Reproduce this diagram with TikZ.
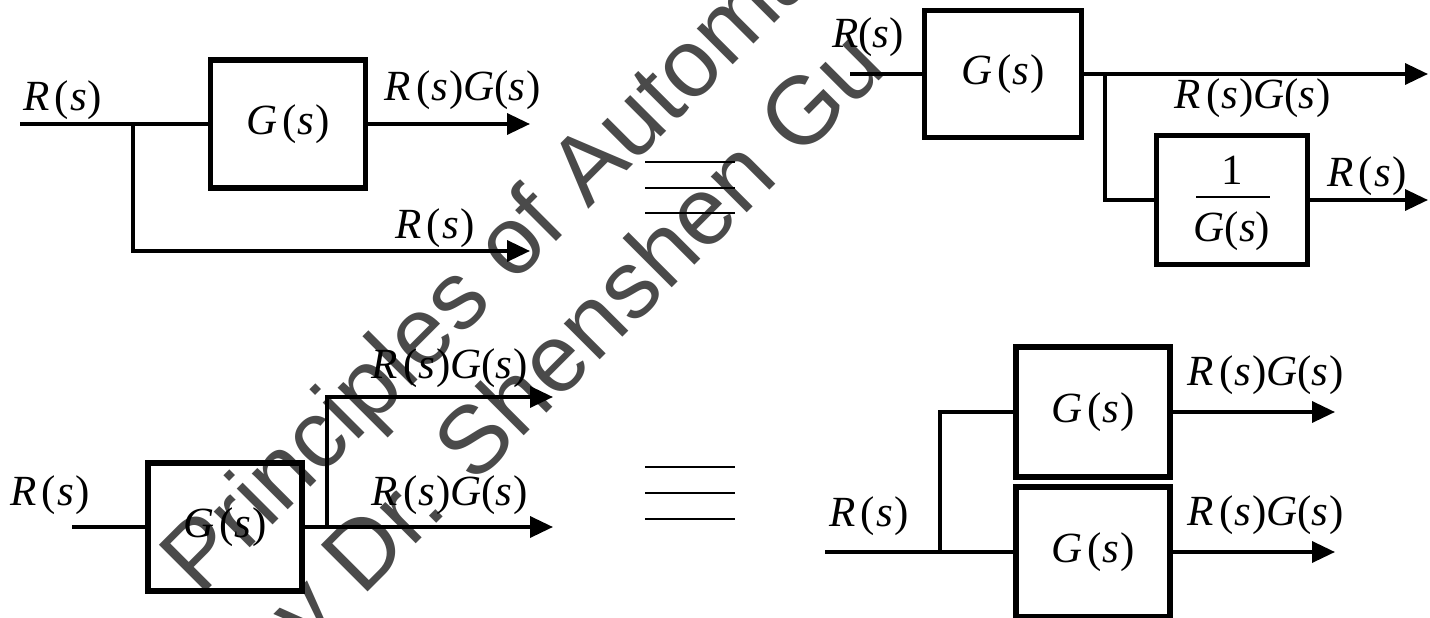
\documentclass[tikz,border=0pt]{standalone}
\usepackage{fontspec}
\setmainfont{Liberation Serif}
\newfontfamily\wmfont{Liberation Sans}
\usetikzlibrary{arrows.meta}
\definecolor{wmgray}{HTML}{4A4A4A}
% signal symbols, MathType-like spacing
\newcommand\Rs{\textit{R}\kern5pt(\kern1pt\textit{s}\kern1pt)}
\newcommand\Rtight{\textit{R}(\textit{s})}
\newcommand\Gs{\textit{G}\kern5pt(\kern1pt\textit{s}\kern1pt)}
\newcommand\Gtight{\textit{G}(\textit{s})}
\newcommand\RGs{\textit{R}\kern5pt(\kern1pt\textit{s}\kern1pt)\textit{G}(\textit{s}\kern1pt)}
\begin{document}
\begin{tikzpicture}[x=1pt,y=-1pt,
  blk/.style={draw, line width=5.5pt, minimum width=155pt, minimum height=128pt,
    inner sep=0pt, font=\fontsize{43}{48}\selectfont},
  lbl/.style={inner sep=0pt, font=\fontsize{43}{48}\selectfont},
  wire/.style={line width=3.5pt},
  sig/.style={wire, -{Triangle[length=23pt,width=21pt]}},
  eqv/.style={line width=2pt},
  wm/.style={anchor=base west, inner sep=0pt, rotate=45, text=wmgray,
    font=\wmfont\fontsize{96}{96}\selectfont}]
\useasboundingbox (0,0) rectangle (1430,618);
\clip (0,0) rectangle (1430,618);

% watermark
\node[wm] (wm1) at (200,598) {Principles of Automatic Control};
\node[wm] (wm2) at (272,688) {by Dr. Shenshen Gu};

% ---- top left: take-off point before the block
\node[lbl] (r1) at (63,100) {\Rs};
\node[blk] (b1) at (288,124) {\Gs};
\coordinate (in1) at (20,124);
\coordinate (j1) at (133,124);
\coordinate (c1) at (133,251);
\coordinate (o1a) at (530,124);
\coordinate (o1b) at (530,251);
\draw[wire] (in1) -- (b1.west);
\draw[sig] (b1.east) -- (o1a);
\draw[sig] (j1) -- (c1) -- (o1b);
\node[lbl] (l1a) at (463,90) {\RGs};
\node[lbl] (l1b) at (435,228) {\Rs};

% equivalence sign (top)
\draw[eqv] (645,162) -- (735,162);
\draw[eqv] (645,188) -- (735,188);
\draw[eqv] (645,213) -- (735,213);

% ---- top right: take-off point moved after the block
\node[lbl] (r2) at (868,37) {\Rtight};
\coordinate (in2) at (850,74);
\node[blk, minimum width=157pt, minimum height=127pt] (b2) at (1003,74) {\Gs};
\coordinate (j2) at (1105,74);
\coordinate (o2a) at (1428,74);
\node[blk, minimum width=151pt, minimum height=129pt] (b3) at (1232,200) {};
\node[lbl] (f1n) at (1232,170) {1};
\node[lbl] (f1d) at (1232,231) {\Gtight};
\draw[line width=1.5pt] (1196,197) -- (1270,197);
\coordinate (o2b) at (1428,200);
\draw[wire] (in2) -- (b2.west);
\draw[sig] (b2.east) -- (o2a);
\draw[wire] (j2) |- (b3.west);
\draw[sig] (b3.east) -- (o2b);
\node[lbl] (l2a) at (1253,98) {\RGs};
\node[lbl] (l2b) at (1367,176) {\Rs};

% ---- bottom left: take-off point after the block
\node[lbl] (r3) at (50,495) {\Rs};
\coordinate (in3) at (72,527);
\node[blk, minimum width=154pt] (b4) at (225,527) {\Gs};
\coordinate (j3) at (327,527);
\coordinate (o3a) at (553,397);
\coordinate (o3b) at (553,527);
\draw[wire] (in3) -- (b4.west);
\draw[sig] (b4.east) -- (o3b);
\draw[sig] (j3) |- (o3a);
\node[lbl] (l3a) at (450,368) {\RGs};
\node[lbl] (l3b) at (450,495) {\RGs};

% equivalence sign (bottom)
\draw[eqv] (645,467) -- (735,467);
\draw[eqv] (645,493) -- (735,493);
\draw[eqv] (645,519) -- (735,519);

% ---- bottom right: take-off point moved before the block
\node[lbl] (r4) at (869,516) {\Rs};
\coordinate (in4) at (825,552);
\node[blk, minimum width=154pt, minimum height=130pt] (b5) at (1093,412) {\Gs};
\node[blk, minimum width=154pt, minimum height=130pt] (b6) at (1093,552) {\Gs};
\coordinate (j4) at (940,552);
\coordinate (o4a) at (1335,412);
\coordinate (o4b) at (1335,552);
\draw[wire] (in4) -- (b6.west);
\draw[wire] (j4) |- (b5.west);
\draw[sig] (b5.east) -- (o4a);
\draw[sig] (b6.east) -- (o4b);
\node[lbl] (l4a) at (1266,375) {\RGs};
\node[lbl] (l4b) at (1266,515) {\RGs};
\end{tikzpicture}
\end{document}
